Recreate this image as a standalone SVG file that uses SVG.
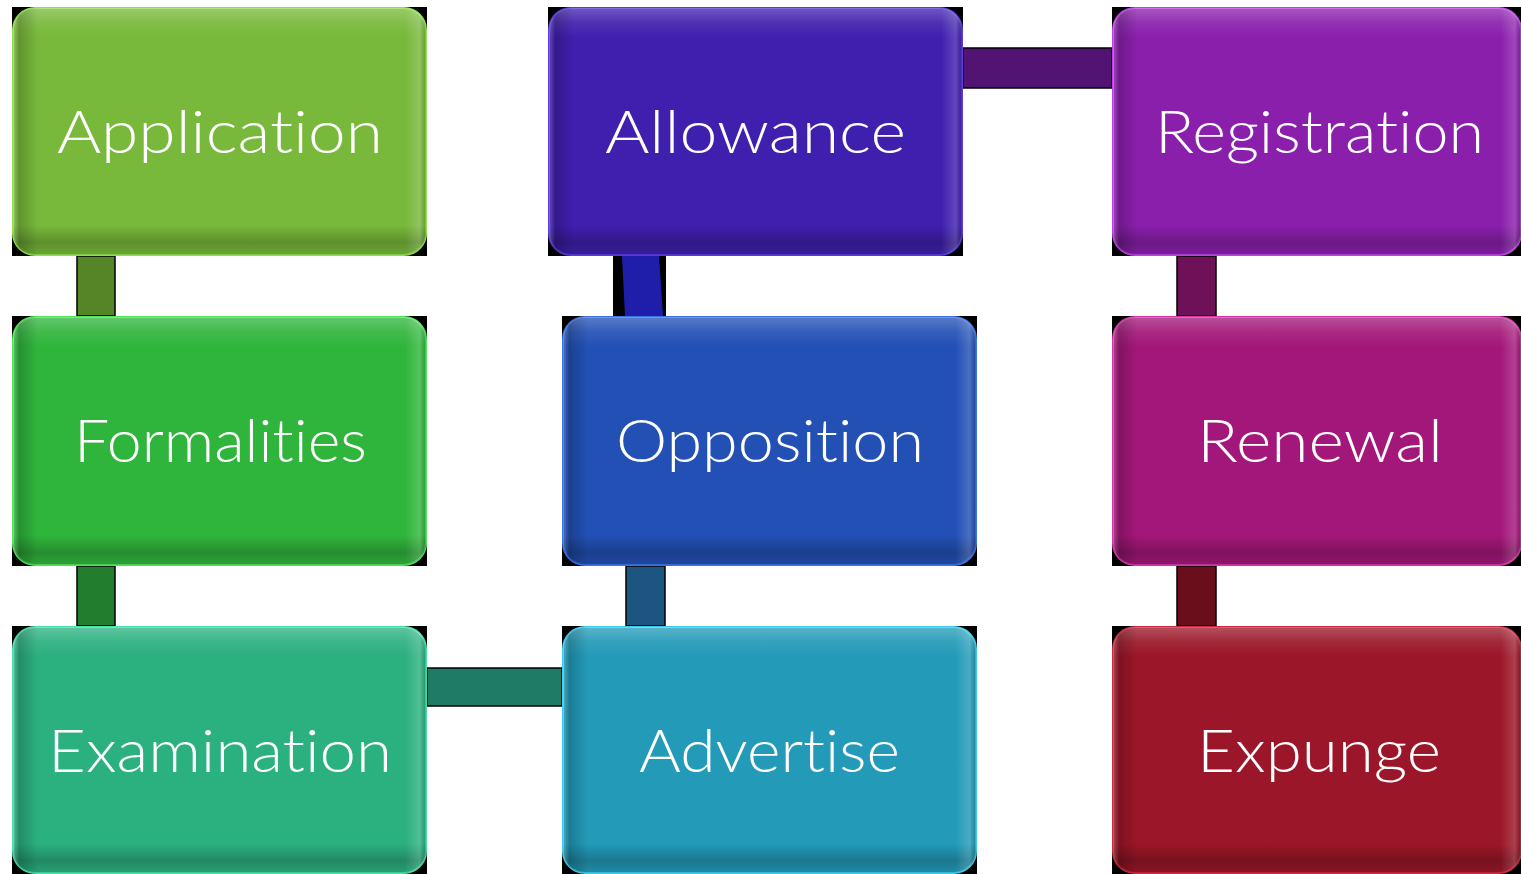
<svg xmlns="http://www.w3.org/2000/svg" width="1521" height="874" viewBox="0 0 1521 874">
  <style>
    .bg { fill: #000; }
    .box { stroke-width: 2; }
    .bevV { fill: url(#bevelV); }
    .bevH { fill: url(#bevelH); }
    .lbl { font-family: Lato, "Open Sans", "Liberation Sans", sans-serif; font-weight: 300; font-size: 60px; fill: #ffffff; font-variant-ligatures: none; }
    .bar { stroke: #000; stroke-width: 1.5; }
  </style>
  <defs>
    <linearGradient id="bevelV" x1="0" y1="0" x2="0" y2="1">
      <stop offset="0" stop-color="#ffffff" stop-opacity="0.25"/>
      <stop offset="0.06" stop-color="#ffffff" stop-opacity="0.08"/>
      <stop offset="0.12" stop-color="#ffffff" stop-opacity="0"/>
      <stop offset="0.88" stop-color="#000000" stop-opacity="0"/>
      <stop offset="0.95" stop-color="#000000" stop-opacity="0.22"/>
      <stop offset="1" stop-color="#000000" stop-opacity="0.1"/>
    </linearGradient>
    <linearGradient id="bevelH" x1="0" y1="0" x2="1" y2="0">
      <stop offset="0" stop-color="#ffffff" stop-opacity="0.2"/>
      <stop offset="0.015" stop-color="#000000" stop-opacity="0.2"/>
      <stop offset="0.06" stop-color="#000000" stop-opacity="0"/>
      <stop offset="0.95" stop-color="#ffffff" stop-opacity="0"/>
      <stop offset="0.985" stop-color="#ffffff" stop-opacity="0.18"/>
      <stop offset="1" stop-color="#000000" stop-opacity="0.15"/>
    </linearGradient>
  </defs>
  <rect width="1521" height="874" fill="#ffffff"/>

  <g id="connectors">
    <rect x="613" y="256" width="53" height="60" fill="#000"/>
    <polygon points="622,256 659,256 663,316 625,316" fill="#1e1eaa"/>
    <rect class="bar" x="77" y="256" width="38" height="60" fill="#568528"/>
    <rect class="bar" x="77" y="566" width="38" height="60" fill="#237d2f"/>
    <rect class="bar" x="427" y="668" width="135" height="38" fill="#1f7a66"/>
    <rect class="bar" x="626" y="566" width="39" height="60" fill="#1b5580"/>
    <rect class="bar" x="963" y="48" width="149" height="40" fill="#521472"/>
    <rect class="bar" x="1177" y="256" width="39" height="60" fill="#6e1158"/>
    <rect class="bar" x="1177" y="566" width="39" height="60" fill="#6a0e1c"/>
  </g>

  <g id="application">
    <rect class="bg" x="12" y="7" width="415" height="249"/>
    <rect class="box" x="13" y="8" width="413" height="247" rx="22" fill="#78b83a" stroke="#8fe04a"/>
    <rect class="bevV" x="13" y="8" width="413" height="247" rx="22"/>
    <rect class="bevH" x="13" y="8" width="413" height="247" rx="22"/>
    <text class="lbl" x="57" y="153" textLength="326" lengthAdjust="spacingAndGlyphs">Application</text>
  </g>

  <g id="formalities">
    <rect class="bg" x="12" y="316" width="415" height="250"/>
    <rect class="box" x="13" y="317" width="413" height="248" rx="22" fill="#30b53c" stroke="#4fe35a"/>
    <rect class="bevV" x="13" y="317" width="413" height="248" rx="22"/>
    <rect class="bevH" x="13" y="317" width="413" height="248" rx="22"/>
    <text class="lbl" x="74" y="462" textLength="293" lengthAdjust="spacingAndGlyphs">Formalities</text>
  </g>

  <g id="examination">
    <rect class="bg" x="12" y="626" width="415" height="248"/>
    <rect class="box" x="13" y="627" width="413" height="246" rx="22" fill="#2bb080" stroke="#45e0a8"/>
    <rect class="bevV" x="13" y="627" width="413" height="246" rx="22"/>
    <rect class="bevH" x="13" y="627" width="413" height="246" rx="22"/>
    <text class="lbl" x="48" y="772" textLength="344" lengthAdjust="spacingAndGlyphs">Examination</text>
  </g>

  <g id="allowance">
    <rect class="bg" x="548" y="7" width="415" height="249"/>
    <rect class="box" x="549" y="8" width="413" height="247" rx="22" fill="#3f1fae" stroke="#5a3ae0"/>
    <rect class="bevV" x="549" y="8" width="413" height="247" rx="22"/>
    <rect class="bevH" x="549" y="8" width="413" height="247" rx="22"/>
    <text class="lbl" x="605" y="153" textLength="301" lengthAdjust="spacingAndGlyphs">Allowance</text>
  </g>

  <g id="opposition">
    <rect class="bg" x="562" y="316" width="415" height="250"/>
    <rect class="box" x="563" y="317" width="413" height="248" rx="22" fill="#2250b5" stroke="#3a72e8"/>
    <rect class="bevV" x="563" y="317" width="413" height="248" rx="22"/>
    <rect class="bevH" x="563" y="317" width="413" height="248" rx="22"/>
    <text class="lbl" x="616" y="462" textLength="308" lengthAdjust="spacingAndGlyphs">Opposition</text>
  </g>

  <g id="advertise">
    <rect class="bg" x="562" y="626" width="415" height="248"/>
    <rect class="box" x="563" y="627" width="413" height="246" rx="22" fill="#229ab8" stroke="#3ccbec"/>
    <rect class="bevV" x="563" y="627" width="413" height="246" rx="22"/>
    <rect class="bevH" x="563" y="627" width="413" height="246" rx="22"/>
    <text class="lbl" x="639" y="772" textLength="261" lengthAdjust="spacingAndGlyphs">Advertise</text>
  </g>

  <g id="registration">
    <rect class="bg" x="1112" y="7" width="409" height="249"/>
    <rect class="box" x="1113" y="8" width="408" height="247" rx="22" fill="#8a1fac" stroke="#c040e8"/>
    <rect class="bevV" x="1113" y="8" width="408" height="247" rx="22"/>
    <rect class="bevH" x="1113" y="8" width="408" height="247" rx="22"/>
    <text class="lbl" x="1155" y="153" textLength="329" lengthAdjust="spacingAndGlyphs">Registration</text>
  </g>

  <g id="renewal">
    <rect class="bg" x="1112" y="316" width="409" height="250"/>
    <rect class="box" x="1113" y="317" width="408" height="248" rx="22" fill="#a3177a" stroke="#d835a8"/>
    <rect class="bevV" x="1113" y="317" width="408" height="248" rx="22"/>
    <rect class="bevH" x="1113" y="317" width="408" height="248" rx="22"/>
    <text class="lbl" x="1197" y="462" textLength="246" lengthAdjust="spacingAndGlyphs">Renewal</text>
  </g>

  <g id="expunge">
    <rect class="bg" x="1112" y="626" width="409" height="248"/>
    <rect class="box" x="1113" y="627" width="408" height="246" rx="22" fill="#9b1628" stroke="#cc2a40"/>
    <rect class="bevV" x="1113" y="627" width="408" height="246" rx="22"/>
    <rect class="bevH" x="1113" y="627" width="408" height="246" rx="22"/>
    <text class="lbl" x="1197" y="772" textLength="244" lengthAdjust="spacingAndGlyphs">Expunge</text>
  </g>
</svg>
